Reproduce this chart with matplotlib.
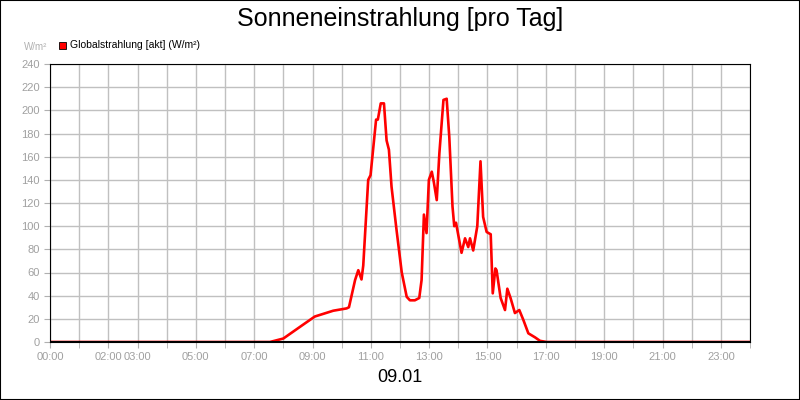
import matplotlib
matplotlib.use("Agg")
import matplotlib.pyplot as plt
from matplotlib.patches import Rectangle

plt.rcParams['font.family'] = ['Liberation Sans', 'DejaVu Sans']

hours = [0, 7.54, 8.0, 8.68, 9.08, 9.71, 10.17, 10.25, 10.46, 10.57, 10.68, 10.74, 10.91, 10.99,
         11.18, 11.24, 11.34, 11.45, 11.54, 11.62, 11.71, 11.88, 12.06, 12.23, 12.34, 12.51, 12.66,
         12.74, 12.82, 12.91, 12.99, 13.09, 13.16, 13.26, 13.35, 13.49, 13.6, 13.69, 13.8, 13.86,
         13.92, 14.11, 14.23, 14.34, 14.4, 14.51, 14.65, 14.76, 14.85, 14.97, 15.11, 15.18, 15.27,
         15.31, 15.45, 15.6, 15.68, 15.79, 15.94, 16.09, 16.23, 16.4, 16.63, 16.8, 17.03, 24]
values = [0, 0, 3, 15, 22, 27, 29, 30, 53.5, 62, 54, 66, 140, 144,
          192, 192, 206, 206, 174, 166, 134, 97, 60, 39, 36, 36, 38,
          53.5, 110, 94, 140, 147, 138, 122.5, 163, 209, 210, 177, 117, 100,
          103, 77, 89.5, 82, 89.5, 79, 100, 156, 108, 95, 93, 42, 63.5,
          62, 38, 27.6, 46, 38, 25, 27.6, 19, 7.5, 4, 1, 0, 0]
tick_hours = [0, 2, 3, 5, 7, 9, 11, 13, 15, 17, 19, 21, 23]
tick_labels = ["00:00", "02:00", "03:00", "05:00", "07:00", "09:00", "11:00",
               "13:00", "15:00", "17:00", "19:00", "21:00", "23:00"]
y_ticks = list(range(0, 241, 20))

fig = plt.figure(figsize=(8, 4), dpi=100)
fig.patches.append(Rectangle((0, 0), 1, 1, transform=fig.transFigure, fill=False,
                             edgecolor="black", linewidth=1.5))
ax = fig.add_axes([0.0625, 0.145, 0.875, 0.695])
ax.plot(hours, values, color="#ff0000", linewidth=1.9)
ax.set_xlim(0, 24)
ax.set_ylim(0, 240)
ax.set_xticks(tick_hours)
ax.set_xticklabels(tick_labels)
ax.set_xticks(range(0, 25), minor=True)
ax.set_yticks(y_ticks)
ax.grid(True, which="both", color="#c0c0c0", linewidth=1)
ax.set_axisbelow(True)
ax.tick_params(which="both", colors="#b0b0b0", labelcolor="#a0a0a0", labelsize=8, length=4)
for s in ax.spines.values():
    s.set_color("black")
ax.axhline(0, color="black", linewidth=1.5)

fig.text(0.5, 0.952, "Sonneneinstrahlung [pro Tag]", ha="center", va="center", fontsize=18)
fig.text(0.5, 0.055, "09.01", ha="center", va="center", fontsize=13)
fig.text(0.044, 0.883, "W/m²", ha="center", va="center", fontsize=7, color="#b0b0b0")
fig.patches.append(Rectangle((0.074, 0.877), 0.009, 0.018, transform=fig.transFigure,
                             facecolor="red", edgecolor="black", linewidth=0.6))
fig.text(0.087, 0.887, "Globalstrahlung [akt] (W/m²)", ha="left", va="center", fontsize=7.5)

fig.savefig("out.png", dpi=100)
